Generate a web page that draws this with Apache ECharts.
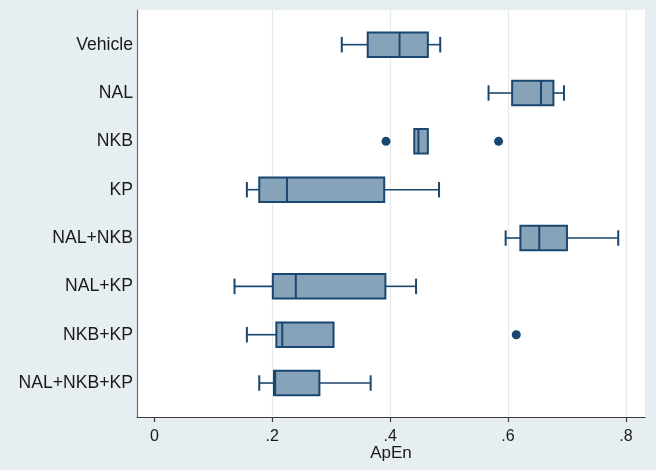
<!DOCTYPE html>
<html><head><meta charset="utf-8">
<script src="https://cdn.jsdelivr.net/npm/echarts@6/dist/echarts.min.js"></script>
<style>html,body{margin:0;padding:0;background:#e6eef1;}#c{width:656px;height:470px;}</style>
</head><body><div id="c"></div>
<script>
// ---- data ----
const categories = ['Vehicle', 'NAL', 'NKB', 'KP', 'NAL+NKB', 'NAL+KP', 'NKB+KP', 'NAL+NKB+KP'];
const lowWhisker  = [0.318, 0.567, 0.441, 0.157, 0.596, 0.136, 0.157, 0.178];
const q1          = [0.362, 0.607, 0.441, 0.178, 0.621, 0.201, 0.207, 0.203];
const median      = [0.416, 0.656, 0.448, 0.225, 0.653, 0.240, 0.217, 0.205];
const q3          = [0.464, 0.677, 0.464, 0.390, 0.700, 0.392, 0.304, 0.280];
const highWhisker = [0.485, 0.695, 0.464, 0.483, 0.787, 0.444, 0.304, 0.367];
const outlierCats = ['NKB', 'NKB', 'NKB+KP'];
const outlierVals = [0.393, 0.584, 0.614];
const tickValues = [0, 0.2, 0.4, 0.6, 0.8];
const tickLabels = ['0', '.2', '.4', '.6', '.8'];
const gridValues = [0.2, 0.4, 0.6, 0.8];
const axisTitle = 'ApEn';

// ---- styling ----
const NAVY = '#1a476f';
const FILL = '#87a3ba';
const X_MIN = -0.0294, X_MAX = 0.8324;
const FONT = '"Liberation Sans", Arial, sans-serif';

const boxData = categories.map((c, i) => [i, lowWhisker[i], q1[i], median[i], q3[i], highWhisker[i]]);
const outlierData = outlierCats.map((c, i) => [outlierVals[i], c]);

function renderBox(params, api) {
  const cat = api.value(0);
  const lo = api.coord([api.value(1), cat]);
  const a = api.coord([api.value(2), cat]);
  const m = api.coord([api.value(3), cat]);
  const b = api.coord([api.value(4), cat]);
  const hi = api.coord([api.value(5), cat]);
  const band = api.size([0, 1])[1];
  const bh = band * 0.507, ch = band * 0.32;
  const y = m[1];
  const ls = {stroke: NAVY, lineWidth: 1.6};
  const cs = {stroke: NAVY, lineWidth: 2};
  const children = [];
  if (lo[0] < a[0] - 0.5) {
    children.push({type: 'line', shape: {x1: lo[0], y1: y, x2: a[0], y2: y}, style: ls});
    children.push({type: 'line', shape: {x1: lo[0], y1: y - ch / 2, x2: lo[0], y2: y + ch / 2}, style: cs});
  }
  if (hi[0] > b[0] + 0.5) {
    children.push({type: 'line', shape: {x1: b[0], y1: y, x2: hi[0], y2: y}, style: ls});
    children.push({type: 'line', shape: {x1: hi[0], y1: y - ch / 2, x2: hi[0], y2: y + ch / 2}, style: cs});
  }
  children.push({type: 'rect', shape: {x: a[0], y: y - bh / 2, width: b[0] - a[0], height: bh},
    style: {fill: FILL, stroke: NAVY, lineWidth: 2}});
  children.push({type: 'line', shape: {x1: m[0], y1: y - bh / 2, x2: m[0], y2: y + bh / 2}, style: cs});
  return {type: 'group', children};
}

const chart = echarts.init(document.getElementById('c'), null, {renderer: 'canvas'});
chart.setOption({
  backgroundColor: '#e6eef1',
  animation: false,
  grid: [
    {left: 137, right: 11, top: 10, bottom: 53, show: true, backgroundColor: '#ffffff', borderWidth: 0},
    {left: 137, right: 11, top: 20.5, bottom: 62.8, show: false}
  ],
  xAxis: [
    {
      type: 'value', gridIndex: 0, min: X_MIN, max: X_MAX,
      name: axisTitle, nameLocation: 'middle', nameGap: 28, nameMoveOverlap: false,
      nameTextStyle: {fontFamily: FONT, fontSize: 17, color: '#1a1a1a'},
      axisLine: {show: true, onZero: false, lineStyle: {color: '#3c3c3c', width: 1.2}},
      axisTick: {show: true, length: 5, customValues: tickValues, lineStyle: {color: '#3c3c3c', width: 1.2}},
      axisLabel: {
        show: true, margin: 12, customValues: tickValues,
        fontFamily: FONT, fontSize: 16, color: '#1a1a1a',
        formatter: function (v) {
          let idx = tickValues.findIndex(t => Math.abs(t - v) < 1e-6);
          return idx >= 0 ? tickLabels[idx] : '';
        }
      },
      splitLine: {show: false}
    },
    {type: 'value', gridIndex: 1, min: X_MIN, max: X_MAX, show: false}
  ],
  yAxis: [
    {
      type: 'value', gridIndex: 0, min: 0, max: 1,
      axisLine: {show: true, onZero: false, lineStyle: {color: '#6a6a6a', width: 1.2}},
      axisTick: {show: false}, axisLabel: {show: false}, splitLine: {show: false}
    },
    {
      type: 'category', gridIndex: 1, data: categories, inverse: true,
      axisLine: {show: false}, axisTick: {show: false}, splitLine: {show: false},
      axisLabel: {margin: 4, fontFamily: FONT, fontSize: 17.6, color: '#1a1a1a'}
    }
  ],
  series: [
    {
      type: 'line', xAxisIndex: 0, yAxisIndex: 0, data: [], z: 1, silent: true,
      markLine: {
        z: 1, silent: true, symbol: ['none', 'none'], label: {show: false},
        lineStyle: {color: '#e6eaeb', width: 1.2, type: 'solid'},
        data: gridValues.map(v => ({xAxis: v}))
      }
    },
    {
      type: 'custom', xAxisIndex: 1, yAxisIndex: 1, z: 3,
      renderItem: renderBox, data: boxData,
      encode: {x: [1, 2, 3, 4, 5], y: 0}
    },
    {
      type: 'scatter', xAxisIndex: 1, yAxisIndex: 1, z: 4,
      symbol: 'circle', symbolSize: 9, itemStyle: {color: NAVY, opacity: 1},
      data: outlierData
    }
  ]
});
</script></body></html>
